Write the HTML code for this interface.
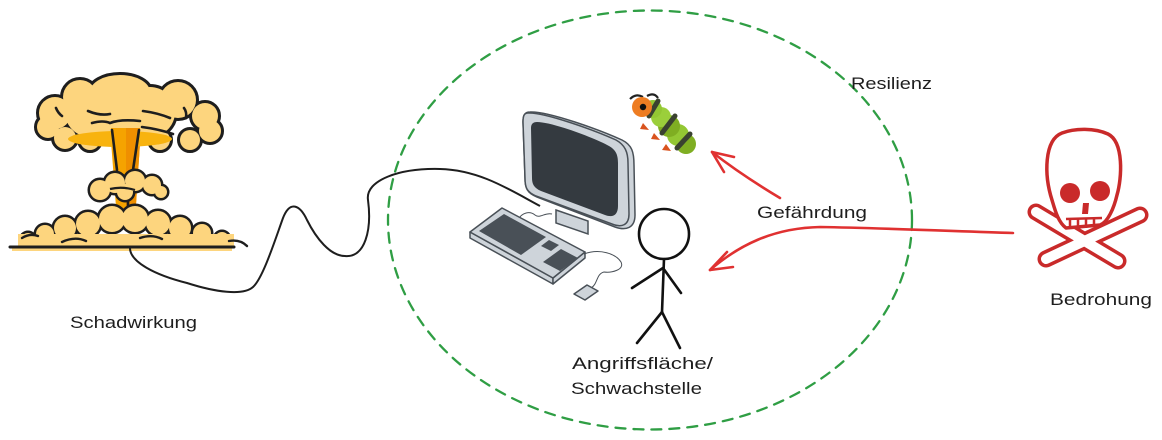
<!DOCTYPE html>
<html>
<head>
<meta charset="utf-8">
<style>
  html,body{margin:0;padding:0;background:#fff;}
  svg{display:block;}
  text{font-family:"Liberation Sans", sans-serif; fill:#1e1e1e;}
</style>
</head>
<body>
<svg width="1162" height="440" viewBox="0 0 1162 440" xmlns="http://www.w3.org/2000/svg">
  <rect width="1162" height="440" fill="#ffffff"/>

  <!-- Resilience dashed ellipse -->
  <ellipse cx="650" cy="220" rx="262" ry="209.5" fill="none" stroke="#2f9e44" stroke-width="2.3" stroke-dasharray="10 8" stroke-linecap="round"/>

  <!-- ===== Mushroom cloud ===== -->
  <polygon points="110,128 141,128 135,220 117,220" fill="#f5a300"/>
  <polygon points="126,128 141,128 135,220 126,220" fill="#ef8f00"/>
  <g fill="#1e1e1e" stroke="#1e1e1e" stroke-width="6">
    <ellipse cx="120" cy="92" rx="30" ry="17"/>
    <circle cx="80" cy="97" r="17"/>
    <circle cx="178" cy="100" r="18"/>
    <circle cx="205" cy="116" r="13"/>
    <circle cx="210" cy="131" r="11"/>
    <circle cx="190" cy="140" r="10"/>
    <circle cx="160" cy="140" r="10"/>
    <circle cx="55" cy="113" r="16"/>
    <circle cx="48" cy="127" r="11"/>
    <circle cx="65" cy="138" r="11"/>
    <circle cx="90" cy="140" r="10"/>
    <circle cx="120" cy="115" r="28"/>
    <circle cx="150" cy="112" r="25"/>
    <circle cx="90" cy="112" r="25"/>
  </g>
  <g fill="#fdd57e">
    <ellipse cx="120" cy="92" rx="30" ry="17"/>
    <circle cx="80" cy="97" r="17"/>
    <circle cx="178" cy="100" r="18"/>
    <circle cx="205" cy="116" r="13"/>
    <circle cx="210" cy="131" r="11"/>
    <circle cx="190" cy="140" r="10"/>
    <circle cx="160" cy="140" r="10"/>
    <circle cx="55" cy="113" r="16"/>
    <circle cx="48" cy="127" r="11"/>
    <circle cx="65" cy="138" r="11"/>
    <circle cx="90" cy="140" r="10"/>
    <circle cx="120" cy="115" r="28"/>
    <circle cx="150" cy="112" r="25"/>
    <circle cx="90" cy="112" r="25"/>
  </g>
  <ellipse cx="120" cy="139" rx="52" ry="8" fill="#f8b30f"/>
  <polygon points="111,128 140,128 138,150 114,150" fill="#f5a300"/>
  <polygon points="126,128 140,128 138,150 126,150" fill="#ef8f00"/>
  <g fill="none" stroke="#1e1e1e" stroke-width="2.6" stroke-linecap="round">
    <path d="M88,111 Q100,116 110,114"/>
    <path d="M143,111 Q158,113 170,118"/>
    <path d="M184,108 Q187,112 186,118"/>
    <path d="M56,108 Q58,113 62,116"/>
    <path d="M92,123 Q103,120 110,123 Q120,119 140,121"/>
    <path d="M142,127 Q158,129 173,134"/>
    <path d="M112,130 L117,170"/>
    <path d="M139,130 L133,170"/>
    <path d="M128,198 L128,214"/>
  </g>
  <g fill="#1e1e1e" stroke="#1e1e1e" stroke-width="5">
    <circle cx="100" cy="190" r="10"/>
    <circle cx="115" cy="183" r="10"/>
    <circle cx="135" cy="181" r="10"/>
    <circle cx="152" cy="185" r="9"/>
    <circle cx="161" cy="192" r="6"/>
    <circle cx="125" cy="192" r="8"/>
  </g>
  <g fill="#fdd57e">
    <circle cx="100" cy="190" r="10"/>
    <circle cx="115" cy="183" r="10"/>
    <circle cx="135" cy="181" r="10"/>
    <circle cx="152" cy="185" r="9"/>
    <circle cx="161" cy="192" r="6"/>
    <circle cx="125" cy="192" r="8"/>
  </g>
  <path d="M110,189 Q122,186 135,190" fill="none" stroke="#1e1e1e" stroke-width="2.2"/>
  <g fill="#1e1e1e" stroke="#1e1e1e" stroke-width="5">
    <circle cx="28" cy="240" r="7"/>
    <circle cx="45" cy="234" r="9"/>
    <circle cx="65" cy="228" r="11"/>
    <circle cx="88" cy="224" r="12"/>
    <circle cx="112" cy="219" r="13"/>
    <circle cx="135" cy="219" r="13"/>
    <circle cx="158" cy="223" r="12"/>
    <circle cx="180" cy="228" r="11"/>
    <circle cx="202" cy="233" r="9"/>
    <circle cx="222" cy="239" r="7"/>
  </g>
  <g fill="#fdd57e">
    <circle cx="28" cy="240" r="7"/>
    <circle cx="45" cy="234" r="9"/>
    <circle cx="65" cy="228" r="11"/>
    <circle cx="88" cy="224" r="12"/>
    <circle cx="112" cy="219" r="13"/>
    <circle cx="135" cy="219" r="13"/>
    <circle cx="158" cy="223" r="12"/>
    <circle cx="180" cy="228" r="11"/>
    <circle cx="202" cy="233" r="9"/>
    <circle cx="222" cy="239" r="7"/>
    <rect x="18" y="234" width="216" height="13"/>
  </g>
  <g fill="none" stroke="#1e1e1e" stroke-width="2.4" stroke-linecap="round">
    <path d="M22,238 Q30,233 38,236"/>
    <path d="M62,242 Q75,236 86,241"/>
    <path d="M140,238 Q152,234 162,239"/>
    <path d="M229,241 Q240,239 247,246"/>
  </g>
  <rect x="12" y="248" width="220" height="3" fill="#fdd57e"/>
  <line x1="10" y1="247" x2="234" y2="247" stroke="#1e1e1e" stroke-width="3" stroke-linecap="round"/>

  <!-- ===== Wire ===== -->
  <path d="M130,248 C130,262 155,275 187,283 C215,292 243,296 253,287 C263,278 275,240 283,218 C290,200 300,205 307,220 C316,238 330,256 345,256 C365,258 372,230 368,200 C365,180 400,168 440,169 C480,170 510,190 540,206" fill="none" stroke="#1e1e1e" stroke-width="2"/>

  <!-- ===== Computer ===== -->
  <polygon points="556,210 588,221 588,234 556,223" fill="#ced4da" stroke="#495057" stroke-width="1.5"/>
  <path d="M530,112 C548,111 600,130 622,140 C632,145 634,152 634,165 L635,215 C635,228 626,231 615,227 L537,197 C527,193 525,188 525,178 L523,122 C523,115 525,112 530,112 Z" fill="#ced4da" stroke="#495057" stroke-width="1.5"/>
  <path d="M528,113 C545,112 596,131 616,140 C625,145 628,152 628,163 L629,214 C629,225 622,228 612,224 L536,196 C527,192 525,188 525,178 L523,122 C523,116 524,113 528,113 Z" fill="#ced4da" stroke="#495057" stroke-width="1.5"/>
  <path d="M537,122 C552,122 595,138 609,146 C616,150 618,155 618,163 L618,206 C618,215 613,218 605,215 L541,191 C534,188 532,184 532,178 L531,128 C531,124 533,122 537,122 Z" fill="#343a40"/>
  <path d="M518,220 C522,212 530,211 535,215 C540,219 545,212 552,214" fill="none" stroke="#495057" stroke-width="1"/>
  <polygon points="470,232 470,238 553,284 553,278" fill="#ced4da" stroke="#495057" stroke-width="1.5" stroke-linejoin="round"/>
  <polygon points="553,278 553,284 585,258 585,252" fill="#ced4da" stroke="#495057" stroke-width="1.5" stroke-linejoin="round"/>
  <polygon points="470,232 502,208 585,252 553,278" fill="#ced4da" stroke="#495057" stroke-width="1.5" stroke-linejoin="round"/>
  <polygon points="479,231 504,214 546,237 521,255" fill="#495057"/>
  <polygon points="541,246 549,240 559,245 551,251" fill="#495057"/>
  <polygon points="543,262 561,249 578,258 560,271" fill="#495057"/>
  <path d="M584,254 C600,248 616,254 621,262 C625,270 611,273 604,272 C596,274 598,284 591,288" fill="none" stroke="#495057" stroke-width="1"/>
  <polygon points="574,294 587,285 598,291 585,300" fill="#ced4da" stroke="#495057" stroke-width="1.5" stroke-linejoin="round"/>

  <!-- ===== Caterpillar ===== -->
  <g>
    <path d="M630,99 Q636,93 643,97" fill="none" stroke="#222" stroke-width="2.2"/>
    <path d="M647,96 Q654,92 658,98" fill="none" stroke="#222" stroke-width="2.2"/>
    <g fill="#d9531e">
      <polygon points="643,123 649,130 640,129"/>
      <polygon points="654,133 660,140 651,139"/>
      <polygon points="666,144 671,151 662,150"/>
    </g>
    <circle cx="686" cy="144" r="10" fill="#7fae22"/>
    <circle cx="678" cy="135" r="11" fill="#93c733"/>
    <circle cx="669" cy="126" r="11" fill="#7fae22"/>
    <circle cx="661" cy="117" r="10" fill="#9bcf3b"/>
    <circle cx="653" cy="109" r="9" fill="#93c733"/>
    <g stroke="#3a4230" stroke-width="5" stroke-linecap="round">
      <line x1="658" y1="101" x2="649" y2="116"/>
      <line x1="675" y1="116" x2="662" y2="133"/>
      <line x1="690" y1="134" x2="677" y2="148"/>
    </g>
    <circle cx="642" cy="107" r="10" fill="#ee7d22"/>
    <circle cx="643" cy="107" r="3.2" fill="#111"/>
  </g>

  <!-- ===== Stick figure ===== -->
  <g fill="none" stroke="#111" stroke-width="2.6" stroke-linecap="round">
    <circle cx="664" cy="234" r="25"/>
    <line x1="664" y1="259" x2="662" y2="312"/>
    <line x1="663" y1="268" x2="632" y2="288"/>
    <line x1="663" y1="268" x2="681" y2="293"/>
    <line x1="662" y1="312" x2="637" y2="343"/>
    <line x1="662" y1="312" x2="680" y2="348"/>
  </g>

  <!-- ===== Red arrows ===== -->
  <g fill="none" stroke="#e03131" stroke-width="2.6" stroke-linecap="round" stroke-linejoin="round">
    <path d="M780,198 C760,186 735,170 712,152"/>
    <path d="M734,157 L712,152 L724,172"/>
    <path d="M1013,233 C950,231 880,228 820,227 C772,228 738,246 710,270"/>
    <path d="M727,252 L710,270 L733,267"/>
  </g>

  <!-- ===== Skull & crossbones ===== -->
  <g stroke-linecap="round">
    <line x1="1036" y1="212" x2="1118" y2="261" stroke="#c92a2a" stroke-width="17"/>
    <line x1="1140" y1="215" x2="1046" y2="259" stroke="#c92a2a" stroke-width="17"/>
    <line x1="1036" y1="212" x2="1118" y2="261" stroke="#ffffff" stroke-width="10"/>
    <line x1="1140" y1="215" x2="1046" y2="259" stroke="#ffffff" stroke-width="10"/>
  </g>
  <path d="M1052,200 C1044,175 1044,140 1062,133 C1075,128 1095,128 1108,134 C1124,142 1122,178 1117,195 C1114,208 1108,222 1100,225 L1066,228 C1058,222 1055,210 1052,200 Z" fill="#ffffff" stroke="#c92a2a" stroke-width="3.5" stroke-linejoin="round"/>
  <circle cx="1070" cy="193" r="10" fill="#c92a2a"/>
  <circle cx="1100" cy="191" r="10" fill="#c92a2a"/>
  <polygon points="1083,203 1089,203 1088,214 1082,214" fill="#c92a2a"/>
  <g stroke="#c92a2a" stroke-width="2.5">
    <line x1="1066" y1="219" x2="1102" y2="218"/>
    <line x1="1070" y1="219" x2="1070" y2="228"/>
    <line x1="1078" y1="219" x2="1078" y2="228"/>
    <line x1="1086" y1="219" x2="1086" y2="228"/>
    <line x1="1094" y1="219" x2="1094" y2="227"/>
  </g>

  <!-- ===== Labels ===== -->
  <text x="70" y="328" font-size="17" textLength="127" lengthAdjust="spacingAndGlyphs">Schadwirkung</text>
  <text x="1050" y="305" font-size="17" textLength="102" lengthAdjust="spacingAndGlyphs">Bedrohung</text>
  <text x="757" y="218" font-size="17" textLength="110" lengthAdjust="spacingAndGlyphs">Gefährdung</text>
  <text x="851" y="89" font-size="17" textLength="81" lengthAdjust="spacingAndGlyphs">Resilienz</text>
  <text x="572" y="369" font-size="17" textLength="141" lengthAdjust="spacingAndGlyphs">Angriffsfläche/</text>
  <text x="571" y="394" font-size="17" textLength="131" lengthAdjust="spacingAndGlyphs">Schwachstelle</text>
</svg>
</body>
</html>
